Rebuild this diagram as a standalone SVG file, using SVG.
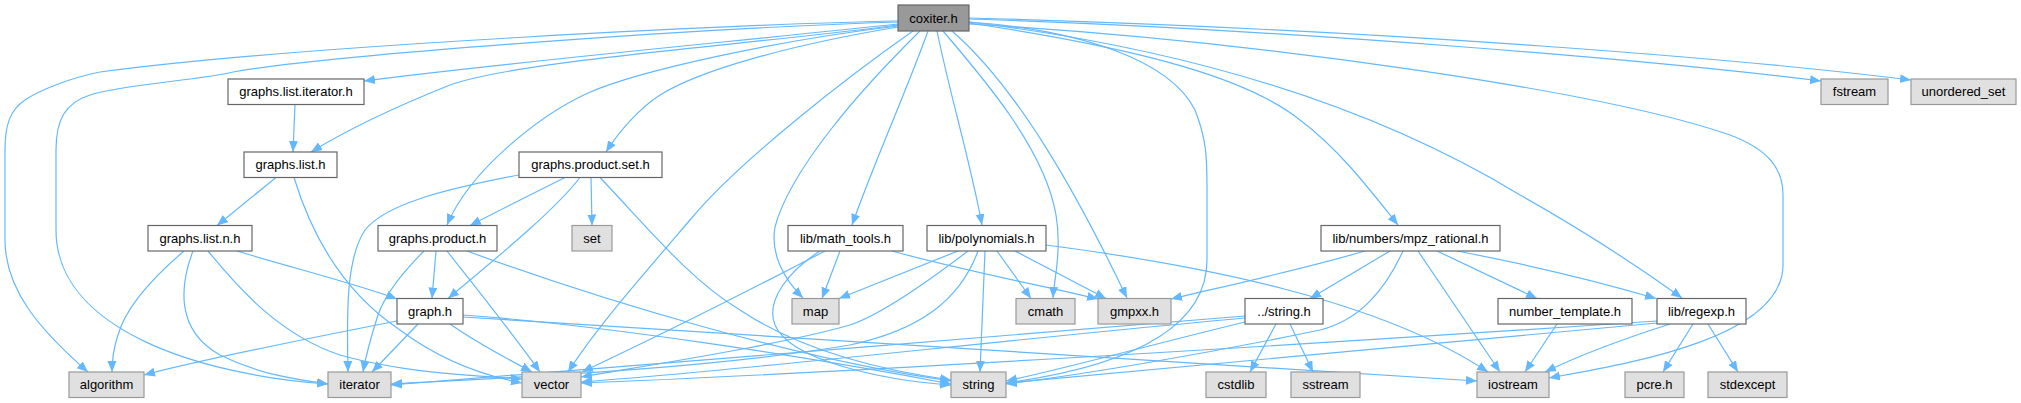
<svg xmlns="http://www.w3.org/2000/svg" width="2021" height="403" viewBox="0 0 2021 403">
<style>
.n rect{fill:#ffffff;stroke:#666666;stroke-width:1.2}
.x rect{fill:#e0e0e0;stroke:#999999;stroke-width:1.2}
.r rect{fill:#999999;stroke:#666666;stroke-width:1.2}
text{font-family:"Liberation Sans",Arial,sans-serif;font-size:13px;fill:#000;text-anchor:middle}
#edges path{fill:none;stroke:#63b8ff;stroke-width:1.2;marker-end:url(#a)}
</style>
<defs>
<marker id="a" markerWidth="12" markerHeight="10" refX="11" refY="4.5" orient="auto" markerUnits="userSpaceOnUse"><path d="M0,0 L11,4.5 L0,9 z" fill="#63b8ff"/></marker>
</defs>
<rect width="2021" height="403" fill="#ffffff"/>
<g id="edges">
<path d="M898,21 C750,24 300,45 100,72 C70,78 40,90 25,100 C10,110 5,125 5,150 L5,240 C5,290 40,330 88,372"/>
<path d="M898,22 C700,28 330,55 233,72 C200,80 120,85 90,95 C65,103 56,120 56,150 L56,230 C56,330 200,375 328,384"/>
<path d="M898,24 C750,40 500,63 364,81"/>
<path d="M898,25 C750,45 520,60 450,85 C400,105 350,128 311,152"/>
<path d="M898,27 C790,45 700,70 660,95 C640,108 620,130 606,152"/>
<path d="M898,26 C780,40 640,70 588,93 C540,115 470,170 447,225"/>
<path d="M913,31 C850,75 740,160 690,220 C630,290 595,330 568,372"/>
<path d="M920,31 C860,90 790,170 775,227 C770,255 785,280 803,298"/>
<path d="M928,31 C905,95 875,160 852,225"/>
<path d="M937,31 C950,95 970,160 982,225"/>
<path d="M943,31 C985,80 1045,150 1056,215 C1062,250 1054,280 1053,298"/>
<path d="M952,31 C1020,90 1080,200 1127,298"/>
<path d="M969,22 C1080,30 1170,60 1195,110 C1207,140 1207,160 1207,190 L1207,260 C1207,340 1100,370 1006,383"/>
<path d="M969,23 C1150,50 1250,80 1300,120 C1340,150 1370,190 1398,225"/>
<path d="M969,22 C1200,50 1380,110 1520,195 C1600,240 1650,275 1682,298"/>
<path d="M969,24 C1250,40 1600,90 1730,135 C1770,150 1783,170 1783,195 L1783,265 C1783,340 1620,365 1549,378"/>
<path d="M969,19 C1300,30 1650,60 1821,81"/>
<path d="M969,18 C1400,30 1750,60 1911,80"/>
<path d="M295,104.5 L293,152"/>
<path d="M276,177.5 L217,225.5"/>
<path d="M294,177.5 C310,230 340,290 400,330 C440,360 480,375 522,383"/>
<path d="M184,251 C150,280 125,310 118,335 C113,350 112,360 112,372"/>
<path d="M193,251 C180,285 175,330 220,355 C260,375 300,380 328,384"/>
<path d="M208,251 C240,290 280,335 340,355 C400,372 470,376 522,379"/>
<path d="M237,251 C300,270 360,285 397,299"/>
<path d="M565,177.5 C530,195 500,210 470,225.5"/>
<path d="M580,177.5 C555,210 500,255 448,298.5"/>
<path d="M591,177.5 L592,225.5"/>
<path d="M600,177.5 C650,230 690,280 740,310 C800,350 880,370 951,380"/>
<path d="M519,175 C440,190 385,205 365,230 C345,260 347,320 348,372"/>
<path d="M436,251 L432,298.5"/>
<path d="M424,251 C400,275 385,295 378,315 C370,340 366,355 363,372"/>
<path d="M447,251 C470,280 510,330 540,372"/>
<path d="M467,251 C600,300 800,360 951,381"/>
<path d="M397,321 C300,340 200,360 144,375"/>
<path d="M418,324 L372,372"/>
<path d="M450,324 C480,345 510,360 532,372"/>
<path d="M463,315 C600,325 800,355 951,384"/>
<path d="M463,317 C700,330 1200,365 1477,381"/>
<path d="M840,251 L822,298.5"/>
<path d="M825,251 C750,290 650,340 582,372"/>
<path d="M820,251 C790,270 765,300 775,325 C790,360 880,380 951,385"/>
<path d="M892,251 C960,270 1040,285 1098,299"/>
<path d="M958,251 L839,298.5"/>
<path d="M968,251 C930,280 880,315 850,325 C780,345 650,365 581,377"/>
<path d="M978,251 C960,300 920,330 850,345 C700,370 500,378 391,384"/>
<path d="M985,251 L980,372"/>
<path d="M997,251 L1031,298.5"/>
<path d="M1015,251 L1106,298.5"/>
<path d="M1046,245 C1200,265 1380,300 1488,372"/>
<path d="M1365,251 C1300,270 1230,285 1171,299"/>
<path d="M1390,251 L1310,298.5"/>
<path d="M1403,251 C1385,290 1360,320 1320,330 C1200,355 1080,375 1006,384"/>
<path d="M1418,251 L1500,372"/>
<path d="M1437,251 L1537,298.5"/>
<path d="M1457,251 C1530,265 1600,282 1656,298.5"/>
<path d="M1276,324 L1250,372"/>
<path d="M1290,324 L1313,372"/>
<path d="M1245,322 C1150,345 1060,370 1006,381"/>
<path d="M1245,318 C1000,340 750,370 581,382"/>
<path d="M1245,316 C1000,335 600,370 391,385"/>
<path d="M1657,323 C1400,345 1150,370 1006,383"/>
<path d="M1657,321 C1300,345 800,375 581,383"/>
<path d="M1670,324 C1620,340 1580,355 1545,372"/>
<path d="M1693,324 L1663,372"/>
<path d="M1708,324 L1738,372"/>
<path d="M1557,324 L1525,372"/>
</g>
<g id="coxiter" class="r"><rect x="898" y="5" width="71" height="26"/><text x="933.5" y="22.5">coxiter.h</text></g>
<g id="graphs_list_iterator" class="n"><rect x="228" y="79" width="136" height="25.5"/><text x="296" y="96">graphs.list.iterator.h</text></g>
<g id="graphs_list" class="n"><rect x="244" y="152" width="93" height="25.5"/><text x="290.5" y="169">graphs.list.h</text></g>
<g id="graphs_product_set" class="n"><rect x="519" y="152" width="143" height="25.5"/><text x="590.5" y="169">graphs.product.set.h</text></g>
<g id="graphs_list_n" class="n"><rect x="148" y="225.5" width="104" height="25.5"/><text x="200" y="242.5">graphs.list.n.h</text></g>
<g id="graphs_product" class="n"><rect x="378" y="225.5" width="119" height="25.5"/><text x="437.5" y="242.5">graphs.product.h</text></g>
<g id="set" class="x"><rect x="572" y="225.5" width="40" height="25.5"/><text x="592" y="242.5">set</text></g>
<g id="math_tools" class="n"><rect x="788" y="225.5" width="115" height="25.5"/><text x="845.5" y="242.5">lib/math_tools.h</text></g>
<g id="polynomials" class="n"><rect x="927" y="225.5" width="119" height="25.5"/><text x="986.5" y="242.5">lib/polynomials.h</text></g>
<g id="mpz_rational" class="n"><rect x="1321" y="225.5" width="179" height="25.5"/><text x="1410.5" y="242.5">lib/numbers/mpz_rational.h</text></g>
<g id="graph" class="n"><rect x="397" y="298.5" width="66" height="25.5"/><text x="430" y="315.5">graph.h</text></g>
<g id="map" class="x"><rect x="792" y="298.5" width="47" height="25.5"/><text x="815.5" y="315.5">map</text></g>
<g id="cmath" class="x"><rect x="1016" y="298.5" width="59" height="25.5"/><text x="1045.5" y="315.5">cmath</text></g>
<g id="gmpxx" class="x"><rect x="1098" y="298.5" width="73" height="25.5"/><text x="1134.5" y="315.5">gmpxx.h</text></g>
<g id="dstring" class="n"><rect x="1245" y="298.5" width="78" height="25.5"/><text x="1284" y="315.5">../string.h</text></g>
<g id="number_template" class="n"><rect x="1498" y="298.5" width="134" height="25.5"/><text x="1565" y="315.5">number_template.h</text></g>
<g id="regexp" class="n"><rect x="1657" y="298.5" width="89" height="25.5"/><text x="1701.5" y="315.5">lib/regexp.h</text></g>
<g id="algorithm" class="x"><rect x="69" y="372" width="75" height="25.5"/><text x="106.5" y="389">algorithm</text></g>
<g id="iterator" class="x"><rect x="328" y="372" width="63" height="25.5"/><text x="359.5" y="389">iterator</text></g>
<g id="vector" class="x"><rect x="522" y="372" width="59" height="25.5"/><text x="551.5" y="389">vector</text></g>
<g id="string" class="x"><rect x="951" y="372" width="55" height="25.5"/><text x="978.5" y="389">string</text></g>
<g id="cstdlib" class="x"><rect x="1206" y="372" width="60" height="25.5"/><text x="1236" y="389">cstdlib</text></g>
<g id="sstream" class="x"><rect x="1291" y="372" width="69" height="25.5"/><text x="1325.5" y="389">sstream</text></g>
<g id="iostream" class="x"><rect x="1477" y="372" width="72" height="25.5"/><text x="1513" y="389">iostream</text></g>
<g id="pcre" class="x"><rect x="1625" y="372" width="59" height="25.5"/><text x="1654.5" y="389">pcre.h</text></g>
<g id="stdexcept" class="x"><rect x="1708" y="372" width="79" height="25.5"/><text x="1747.5" y="389">stdexcept</text></g>
<g id="fstream" class="x"><rect x="1821" y="79" width="67" height="25.5"/><text x="1854.5" y="96">fstream</text></g>
<g id="unordered_set" class="x"><rect x="1911" y="79" width="105" height="25.5"/><text x="1963.5" y="96">unordered_set</text></g>
</svg>
